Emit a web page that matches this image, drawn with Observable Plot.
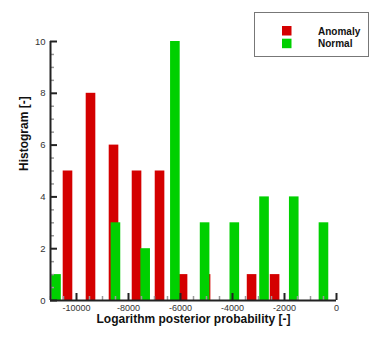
<!DOCTYPE html>
<html><head><meta charset="utf-8">
<script src="https://cdn.jsdelivr.net/npm/d3@7"></script>
<script src="https://cdn.jsdelivr.net/npm/@observablehq/plot@0.6"></script>
<style>
body{margin:0;background:#fff;}
#wrap{position:relative;width:382px;height:339px;font-family:"Liberation Sans",Arial,Helvetica,sans-serif;}
#wrap svg{display:block;}
#legend{position:absolute;left:0;top:0;}
</style></head>
<body><div id="wrap"></div>
<script>
const anomalyCenters = [-10327,-9442,-8557,-7672,-6787,-5902,-5017,-4132,-3247,-2362];
const anomalyCounts  = [5,8,6,5,5,1,1,0,1,1];
const normalCenters  = [-10769,-9626,-8483,-7340,-6197,-5054,-3911,-2768,-1625,-482];
const normalCounts   = [1,0,3,2,10,3,3,4,4,3];
const xTicks = [-10000,-8000,-6000,-4000,-2000,0];
const yTicks = [0,2,4,6,8,10];
const seriesNames = ["Anomaly","Normal"];
const seriesColors = ["#d40000","#00d000"];
const xLabel = "Logarithm posterior probability [-]";
const yLabel = "Histogram [-]";

const halfW = 185;
const anomaly = anomalyCenters.map((c,i)=>({c, n: anomalyCounts[i]})).filter(d=>d.n>0);
const normal = normalCenters.map((c,i)=>({c, n: normalCounts[i]})).filter(d=>d.n>0);
const xMinor = d3.range(-11000, 1, 500).filter(v => !xTicks.includes(v));
const yMinor = d3.range(0, 10.01, 0.5).filter(v => !yTicks.includes(v));
const plain = d => String(d);

const chart = Plot.plot({
  width: 382, height: 339,
  marginLeft: 50, marginRight: 46, marginTop: 41, marginBottom: 39,
  style: {fontFamily: '"Liberation Sans", Arial, sans-serif', background: "#fff"},
  x: {domain: [-11000, 0], label: null},
  y: {domain: [0, 10], label: null},
  marks: [
    Plot.rectY(anomaly, {x1: d=>d.c-halfW, x2: d=>d.c+halfW, y1: 0, y2: "n", fill: seriesColors[0]}),
    Plot.rectY(normal, {x1: d=>d.c-halfW, x2: d=>d.c+halfW, y1: 0, y2: "n", fill: seriesColors[1]}),
    Plot.axisX(xMinor, {tickSize: -4, tickFormat: () => "", stroke: "#999", strokeWidth: 1.5, label: null}),
    Plot.axisY(yMinor, {tickSize: -4, tickFormat: () => "", stroke: "#999", strokeWidth: 1.5, label: null}),
    Plot.axisX(xTicks, {tickSize: -7, tickPadding: 11, tickFormat: plain, fontSize: 9, fill: "#333", stroke: "#222", strokeWidth: 2, label: null}),
    Plot.axisY(yTicks, {tickSize: -7, tickPadding: 12, tickFormat: plain, fontSize: 9.5, fill: "#333", stroke: "#222", strokeWidth: 2, label: null}),
    Plot.ruleY([0], {stroke: "#222", strokeWidth: 2}),
    Plot.ruleX([-11000], {stroke: "#222", strokeWidth: 2}),
    Plot.text([xLabel], {frameAnchor: "bottom", lineAnchor: "top", dy: 14, fontSize: 12, fontWeight: "bold", fill: "#111"}),
    Plot.text([yLabel], {frameAnchor: "left", rotate: -90, dx: -26, fontSize: 12, fontWeight: "bold", fill: "#111"})
  ]
});
const wrap = document.getElementById("wrap");
wrap.appendChild(chart);

// legend overlay
const leg = d3.select(wrap).append("svg").attr("id","legend").attr("width",382).attr("height",70);
leg.append("rect").attr("x",254.5).attr("y",12.5).attr("width",114).attr("height",44)
  .attr("fill","#fff").attr("stroke","#777").attr("stroke-width",1);
seriesNames.forEach((name,i)=>{
  const top = 26 + i*12.7;
  leg.append("rect").attr("x",282).attr("y",top).attr("width",9.5).attr("height",9.5).attr("fill",seriesColors[i]);
  leg.append("text").attr("x",318).attr("y",top+8.5).attr("font-size",10).attr("font-weight","bold")
    .attr("font-family",'"Liberation Sans", Arial, sans-serif').attr("fill","#111").text(name);
});
</script></body></html>
